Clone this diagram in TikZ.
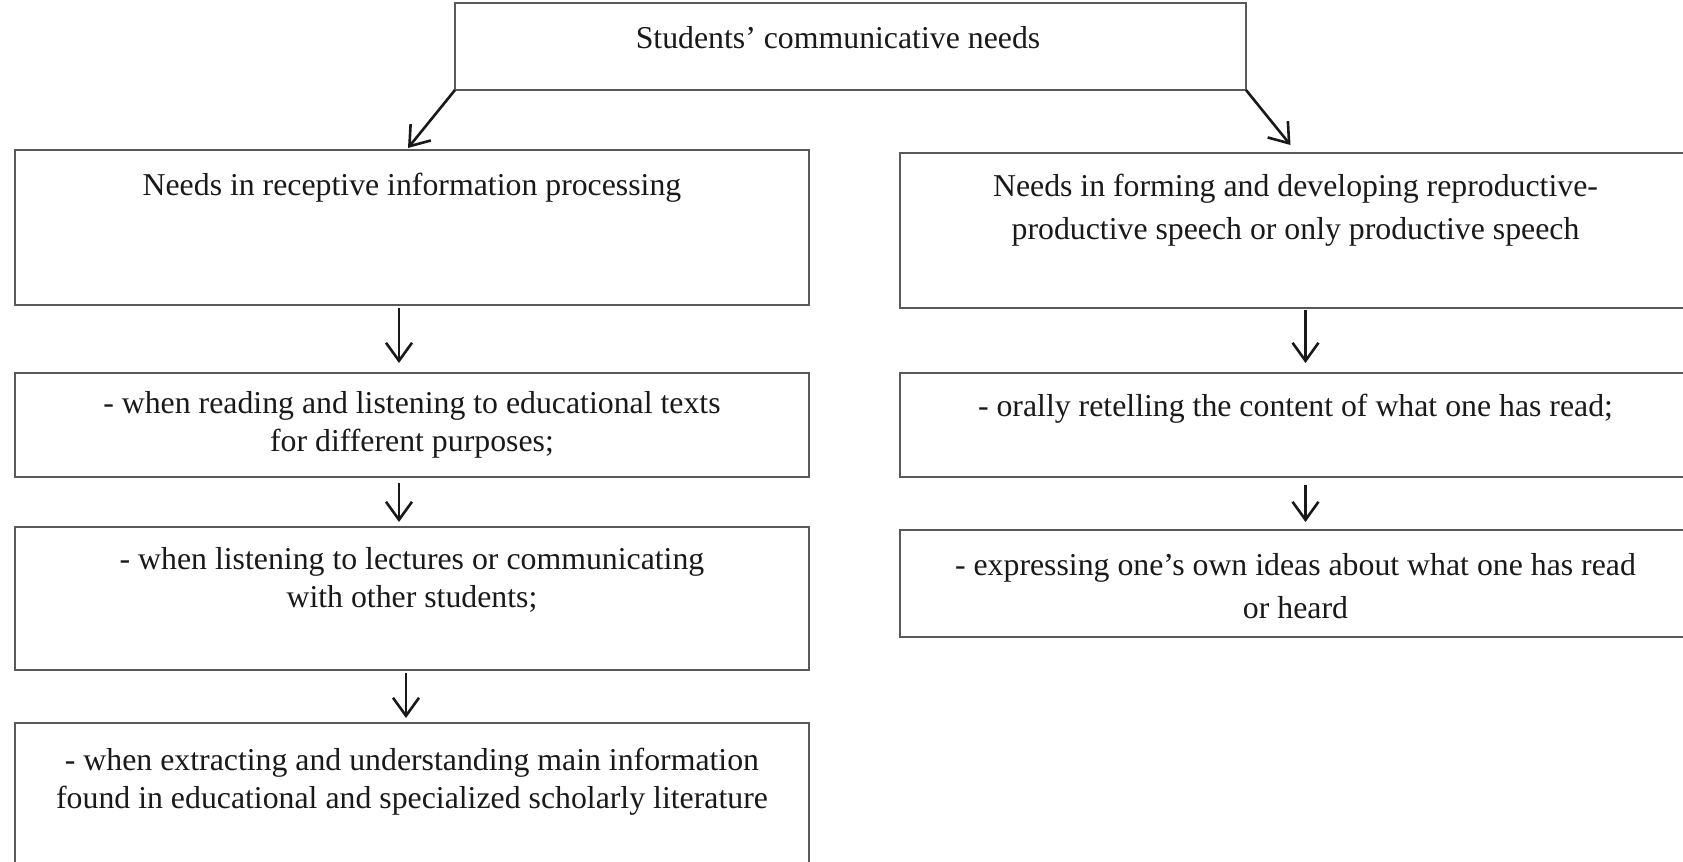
\documentclass[tikz,border=0pt]{standalone}
\usepackage{fontspec}
\setmainfont{Liberation Serif}
\usetikzlibrary{arrows.meta}
\begin{document}
\begin{tikzpicture}[x=0.5pt,y=-0.5pt,
  box/.style={draw=black!65, line width=1pt, rectangle, inner sep=0pt, outer sep=0pt},
  lbox/.style={box, minimum width=397pt},
  rbox/.style={box, minimum width=395.5pt},
  txt/.style={inner sep=0pt, anchor=base, text=black!90, font=\fontsize{15.9pt}{19pt}\selectfont},
  wide/.style={font=\fontsize{15.9pt}{21.5pt}\selectfont},
  arr/.style={line width=1.3pt, draw=black!90, -{Straight Barb[length=9pt,width=13pt,line width=1.3pt]}}]
\useasboundingbox (0,0) rectangle (1683,862);
% boxes
\node[box, minimum width=395.5pt, minimum height=43.5pt] (top) at (850.5,46.5) {};
\node[lbox, minimum height=77.5pt] (L1) at (412,227.5) {};
\node[lbox, minimum height=52pt] (L2) at (412,425) {};
\node[lbox, minimum height=71.5pt] (L3) at (412,598.5) {};
\node[lbox, minimum height=78.5pt] (L4) at (412,801.5) {};
\node[rbox, minimum height=77.5pt] (R1) at (1295.5,230.5) {};
\node[rbox, minimum height=52pt] (R2) at (1295.5,425) {};
\node[rbox, minimum height=53.5pt] (R3) at (1295.5,583.5) {};
% texts
\node[txt] (tTop) at (838,48) {\parbox[t]{390pt}{\centering Students’ communicative needs}};
\node[txt] (tL1) at (412,195) {\parbox[t]{390pt}{\centering Needs in receptive information processing}};
\node[txt] (tL2) at (412,413) {\parbox[t]{390pt}{\centering - when reading and listening to educational texts\\ for different purposes;}};
\node[txt] (tL3) at (412,569) {\parbox[t]{390pt}{\centering - when listening to lectures or communicating\\ with other students;}};
\node[txt] (tL4) at (412,770) {\parbox[t]{390pt}{\centering - when extracting and understanding main information\\ found in educational and specialized scholarly literature}};
\node[txt, wide] (tR1) at (1295.5,196) {\parbox[t]{390pt}{\centering Needs in forming and developing reproductive-\\ productive speech or only productive speech}};
\node[txt] (tR2) at (1295.5,416) {\parbox[t]{390pt}{\centering - orally retelling the content of what one has read;}};
\node[txt, wide] (tR3) at (1295.5,575) {\parbox[t]{390pt}{\centering - expressing one’s own ideas about what one has read\\ or heard}};
% connectors
\draw[arr] (top.south west) -- ([xshift=-2pt,yshift=1pt]L1.north);
\draw[arr] (top.south east) -- ([xshift=-2.5pt,yshift=4pt]R1.north);
\draw[arr] ([xshift=-6.5pt,yshift=-1.5pt]L1.south) -- ([xshift=-6.5pt,yshift=5pt]L2.north);
\draw[arr] ([xshift=-6.5pt,yshift=-3pt]L2.south) -- ([xshift=-6.5pt,yshift=2.5pt]L3.north);
\draw[arr] ([xshift=-3pt,yshift=-1.5pt]L3.south) -- ([xshift=-3pt,yshift=2.5pt]L4.north);
\draw[arr] ([xshift=5pt,yshift=-1pt]R1.south) -- ([xshift=5pt,yshift=5pt]R2.north);
\draw[arr] ([xshift=5pt,yshift=-4pt]R2.south) -- ([xshift=5pt,yshift=4pt]R3.north);
\end{tikzpicture}
\end{document}
